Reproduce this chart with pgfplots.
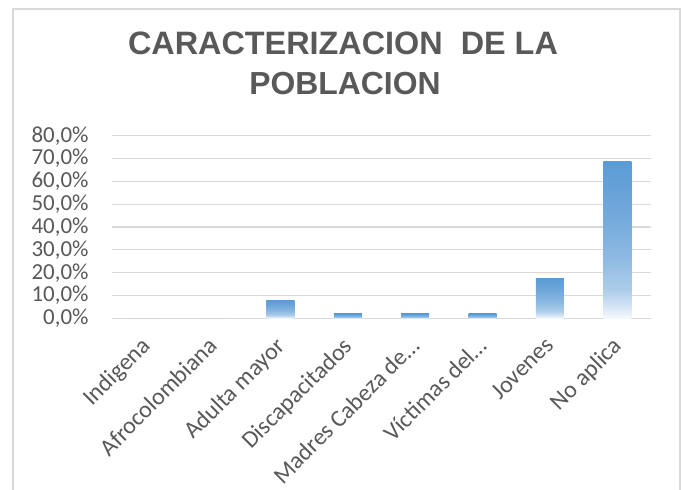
\documentclass[border=0pt]{standalone}
\usepackage{fontspec}
\setmainfont{Carlito}
\newfontfamily\titlefont{Liberation Sans}
\usepackage{pgfplots}
\pgfplotsset{compat=1.18}
\definecolor{txtgray}{HTML}{595959}
\definecolor{gridgray}{HTML}{D9D9D9}
\definecolor{framegray}{HTML}{D9D9D9}
\definecolor{barblue}{HTML}{5B9BD5}
\pgfdeclareverticalshading{barshade}{100bp}{color(0bp)=(barblue!5); color(25bp)=(barblue!5); color(28bp)=(barblue!22); color(34bp)=(barblue!50); color(45bp)=(barblue!70); color(60bp)=(barblue!88); color(75bp)=(barblue); color(100bp)=(barblue)}
\begin{document}
\begin{tikzpicture}
\useasboundingbox (0,0) rectangle (681bp,490bp);
\fill[white] (0,0) rectangle (681bp,490bp);
\draw[framegray, line width=1.2bp] (13bp,-5bp) -- (13bp,481bp) -- (680bp,481bp) -- (680bp,-5bp);
\node[anchor=base, font=\titlefont\bfseries\fontsize{32.5}{36}\selectfont, text=txtgray] at (343bp,435bp) {CARACTERIZACION\hspace{9bp} DE LA};
\node[anchor=base, font=\titlefont\bfseries\fontsize{32}{36}\selectfont, text=txtgray] at (345bp,395bp) {POBLACION};
\begin{axis}[
  at={(112bp,171.7bp)}, anchor=south west,
  scale only axis, width=539bp, height=182.6bp,
  xmin=-0.5, xmax=7.5, ymin=0, ymax=80,
  axis line style={draw=none},
  tick style={draw=none},
  ymajorgrids, grid style={draw=gridgray, line width=1.3bp},
  ytick={0,10,20,30,40,50,60,70,80},
  yticklabels={{0,0\%},{10,0\%},{20,0\%},{30,0\%},{40,0\%},{50,0\%},{60,0\%},{70,0\%},{80,0\%}},
  yticklabel style={font=\fontsize{23}{25}\selectfont, text=txtgray, anchor=east, xshift=-20bp},
  xtick={0,1,2,3,4,5,6,7},
  xticklabels={Indigena, Afrocolombiana, Adulta mayor, Discapacitados, {Madres Cabeza de\dots}, {V\'ictimas del\dots}, Jovenes, No aplica},
  xticklabel style={font=\fontsize{24}{26}\selectfont, text=txtgray, xshift=-6bp, yshift=-13bp, rotate=45, anchor=north east, inner sep=0pt},
  ybar, bar width=28bp, bar shift=0pt,
  every axis plot/.append style={draw=none, shading=barshade},
]
\addplot coordinates {(0,0)};
\addplot coordinates {(1,0)};
\addplot coordinates {(2,7.8)};
\addplot coordinates {(3,1.96)};
\addplot coordinates {(4,1.96)};
\addplot coordinates {(5,1.96)};
\addplot coordinates {(6,17.6)};
\addplot coordinates {(7,68.6)};
\end{axis}
\end{tikzpicture}
\end{document}
